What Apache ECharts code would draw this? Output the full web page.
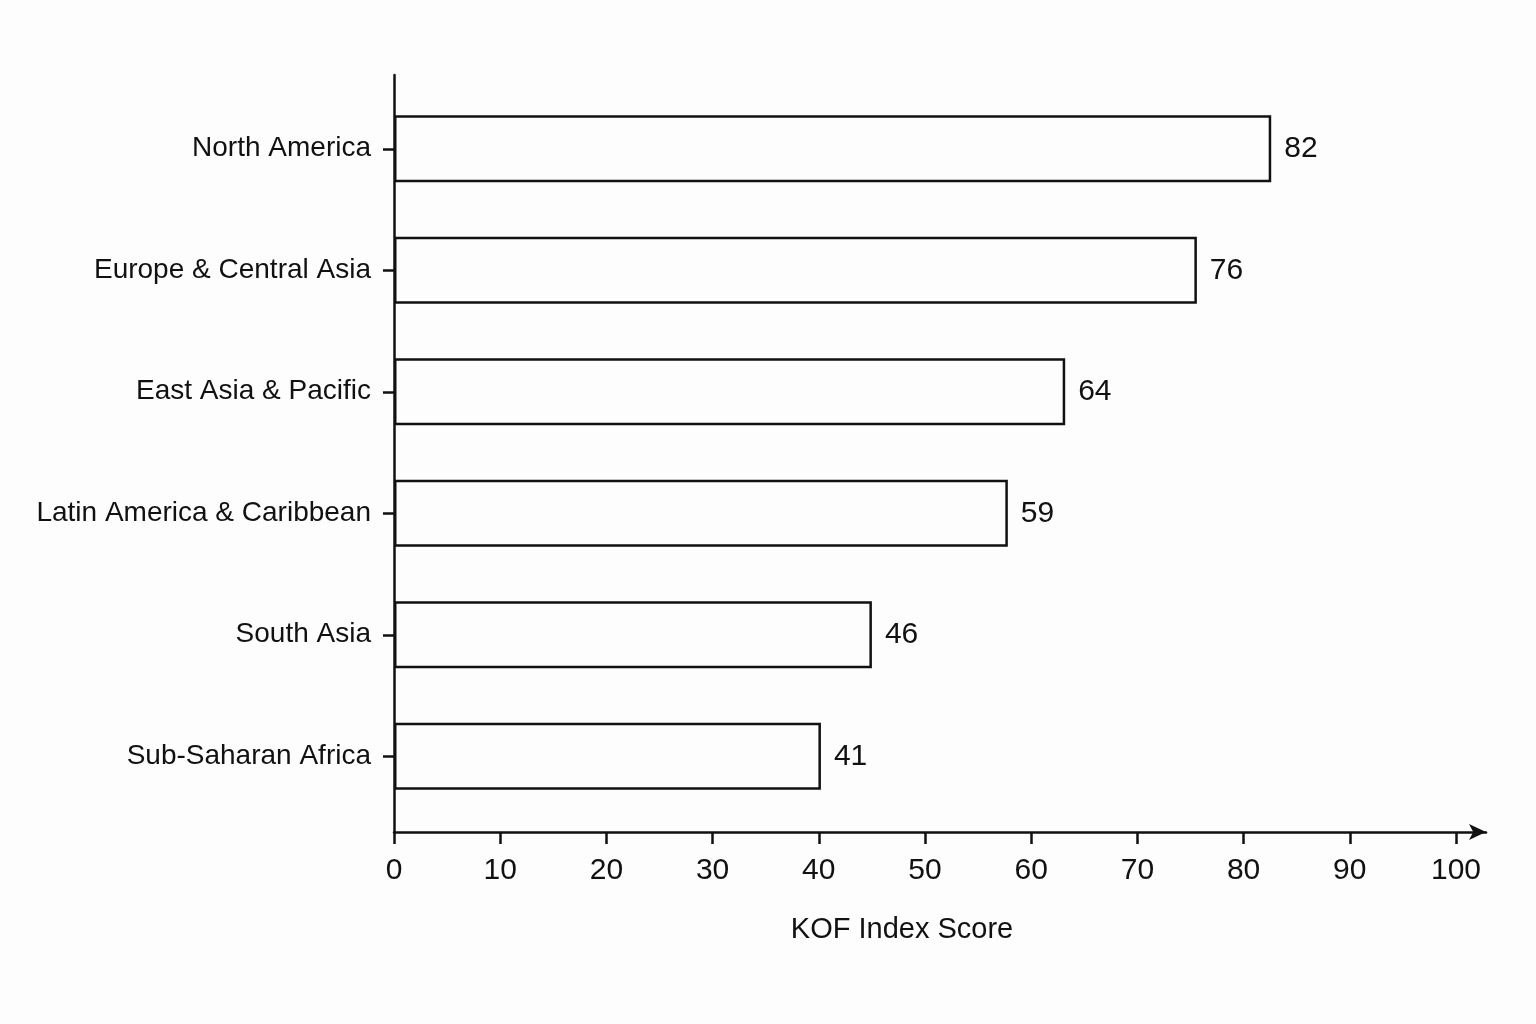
<!DOCTYPE html>
<html>
<head>
<meta charset="utf-8">
<title>KOF Index Score by region</title>
<script src="https://cdn.jsdelivr.net/npm/echarts@6/dist/echarts.min.js"></script>
<style>
    html, body { margin: 0; padding: 0; background: #fdfdfd; }
    #chartmain { width: 1536px; height: 1024px; }
</style>
</head>
<body>
<div id="chartmain"></div>
<script>
// 数据
var regions = ['North America', 'Europe & Central Asia', 'East Asia & Pacific',
    'Latin America & Caribbean', 'South Asia', 'Sub-Saharan Africa'];
var barValues = [82.6, 75.6, 63.2, 57.8, 45.0, 40.2];
var valueLabels = ['82', '76', '64', '59', '46', '41'];
var xMin = 0;
var xMax = 100;
var xStep = 10;
var xTitle = 'KOF Index Score';

var ink = '#111';
var font = '"Liberation Sans Narrow", "Liberation Sans", Arial, sans-serif';

function initEchart() {
    var option = {
        backgroundColor: '#fdfdfd',
        animation: false,
        textStyle: { fontFamily: font, color: ink },
        grid: [
            // bars
            { left: 394, right: 80, top: 88, bottom: 207 },
            // ticks + labels
            { left: 394, right: 80, top: 75, bottom: 192 },
            // axis lines with arrow
            { left: 394, right: 50, top: 75, bottom: 192 }
        ],
        xAxis: [
            { gridIndex: 0, type: 'value', min: xMin, max: xMax, show: false },
            {
                gridIndex: 1, type: 'value', min: xMin, max: xMax, interval: xStep,
                axisLine: { show: false },
                axisTick: { show: true, length: 12, lineStyle: { color: ink, width: 2.5 } },
                axisLabel: { color: ink, fontSize: 30, fontFamily: font, margin: 24 },
                splitLine: { show: false },
                name: xTitle,
                nameLocation: 'middle',
                nameGap: 83,
                nameTextStyle: { color: ink, fontSize: 29, fontFamily: font, padding: [0, 46, 0, 0] }
            },
            {
                gridIndex: 2, type: 'value', min: xMin, max: xMax,
                axisLine: {
                    show: true, symbol: ['none', 'arrow'], symbolSize: [12, 17],
                    lineStyle: { color: ink, width: 2.5 }
                },
                axisTick: { show: false },
                axisLabel: { show: false },
                splitLine: { show: false }
            }
        ],
        yAxis: [
            {
                gridIndex: 0, type: 'category', inverse: true, data: regions,
                axisLine: { show: false },
                axisTick: { show: true, alignWithLabel: true, length: 11, lineStyle: { color: ink, width: 2.5 } },
                axisLabel: { color: ink, fontSize: 28, fontFamily: font, margin: 23 }
            },
            { gridIndex: 1, type: 'value', show: false },
            {
                gridIndex: 2, type: 'value',
                axisLine: { show: true, lineStyle: { color: ink, width: 2.5 } },
                axisTick: { show: false },
                axisLabel: { show: false },
                splitLine: { show: false }
            }
        ],
        series: [
            {
                type: 'bar',
                xAxisIndex: 0,
                yAxisIndex: 0,
                barWidth: 67,
                data: barValues,
                itemStyle: { color: '#fdfdfd', borderColor: ink, borderWidth: 2.5 },
                label: {
                    show: true,
                    position: 'right',
                    distance: 13,
                    color: ink,
                    fontSize: 30,
                    fontFamily: font,
                    formatter: function (p) {
                        return valueLabels[p.dataIndex];
                    }
                }
            }
        ]
    };
    var myChart = echarts.init(document.getElementById('chartmain'));
    myChart.setOption(option);
}

initEchart();
</script>
</body>
</html>
